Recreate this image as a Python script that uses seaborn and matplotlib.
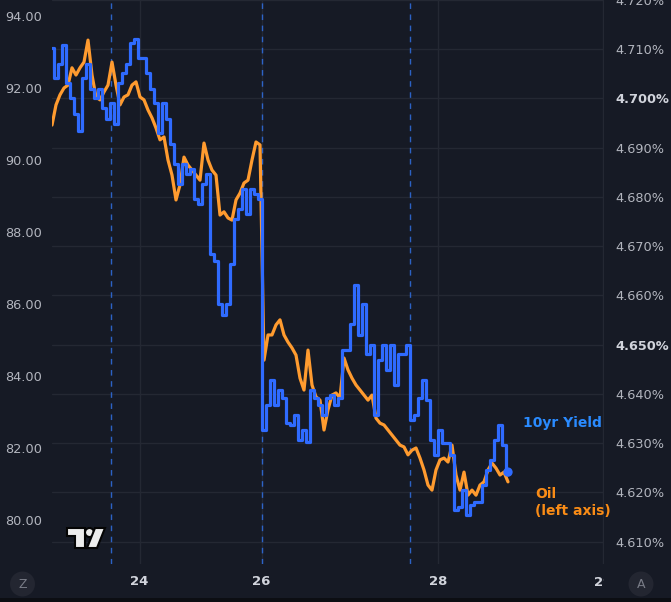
import matplotlib
matplotlib.use("Agg")
import matplotlib.pyplot as plt
import seaborn as sns
import pandas as pd
from matplotlib.patches import Rectangle, Polygon, Ellipse
from matplotlib.transforms import Bbox, TransformedBbox

# ---------------- data ----------------
oil = [90.97, 91.53, 91.81, 92.00, 92.08, 92.56, 92.36, 92.56, 92.72, 93.33,
       92.36, 91.75, 91.67, 91.89, 92.08, 92.72, 92.08, 91.53, 91.75, 91.81,
       92.08, 92.17, 91.75, 91.67, 91.39, 91.17, 90.89, 90.56, 90.64, 90.00,
       89.58, 88.89, 89.31, 90.08, 89.86, 89.72, 89.58, 89.44, 90.47, 90.00,
       89.72, 89.58, 88.47, 88.56, 88.39, 88.33, 88.89, 89.08, 89.36, 89.44,
       90.00, 90.50, 90.42, 84.44, 85.14, 85.14, 85.42, 85.56, 85.14, 84.94,
       84.78, 84.58, 83.94, 83.61, 84.72, 83.75, 83.42, 83.33, 82.50, 83.06,
       83.47, 83.53, 83.39, 84.50, 84.17, 83.94, 83.75, 83.61, 83.47, 83.33,
       83.47, 82.83, 82.69, 82.64, 82.50, 82.36, 82.22, 82.08, 82.03, 81.81,
       81.94, 82.00, 81.72, 81.39, 80.97, 80.83, 81.39, 81.67, 81.72, 81.61,
       82.08, 81.25, 80.83, 81.33, 80.69, 80.83, 80.69, 80.97, 81.06, 81.39,
       81.58, 81.44, 81.25, 81.33, 81.06]

yield10 = [4.7102, 4.7041, 4.7071, 4.7108, 4.7031, 4.7000, 4.6969, 4.6933, 4.7041, 4.7071,
           4.7020, 4.7000, 4.7020, 4.6980, 4.6959, 4.6990, 4.6949, 4.7031, 4.7051, 4.7071,
           4.7112, 4.7120, 4.7082, 4.7082, 4.7051, 4.7020, 4.6990, 4.6929, 4.6990, 4.6959,
           4.6908, 4.6867, 4.6827, 4.6867, 4.6847, 4.6857, 4.6796, 4.6786, 4.6827, 4.6847,
           4.6684, 4.6669, 4.6582, 4.6561, 4.6582, 4.6663, 4.6755, 4.6776, 4.6816, 4.6765,
           4.6816, 4.6806, 4.6796, 4.6327, 4.6378, 4.6429, 4.6378, 4.6408, 4.6392, 4.6341,
           4.6337, 4.6357, 4.6306, 4.6327, 4.6302, 4.6408, 4.6392, 4.6378, 4.6357, 4.6392,
           4.6398, 4.6378, 4.6392, 4.6490, 4.6490, 4.6541, 4.6622, 4.6520, 4.6582, 4.6480,
           4.6500, 4.6357, 4.6469, 4.6500, 4.6449, 4.6500, 4.6418, 4.6480, 4.6480, 4.6500,
           4.6347, 4.6357, 4.6392, 4.6429, 4.6388, 4.6306, 4.6276, 4.6327, 4.6300, 4.6300,
           4.6276, 4.6163, 4.6170, 4.6204, 4.6153, 4.6174, 4.6180, 4.6180, 4.6214, 4.6245,
           4.6266, 4.6306, 4.6337, 4.6296, 4.6241]

bars = list(range(len(oil)))

oil_ticks = [80.0, 82.0, 84.0, 86.0, 88.0, 90.0, 92.0, 94.0]
yield_ticks = [4.61, 4.62, 4.63, 4.64, 4.65, 4.66, 4.67, 4.68, 4.69, 4.70, 4.71, 4.72]
date_labels = ["24", "26", "28", "29"]
date_pos = [21.875, 52.375, 96.5, 137.75]
session_breaks = [14.75, 52.375, 89.375]

# ---------------- style ----------------
BG = "#161A25"
GRID = "#242833"
TXT = "#B2B5BE"
BLUE = "#2F6BFF"
ORANGE = "#FF9B2F"
BLUE_TXT = "#2A8BFF"
ORANGE_TXT = "#FA8C16"

sns.set_theme(style="dark")
plt.rcParams['font.family'] = ['DejaVu Sans']

df = pd.DataFrame({"bar": bars, "oil": oil, "yield": yield10})

W, H = 671, 602
fig = plt.figure(figsize=(W / 100, H / 100), dpi=100, facecolor=BG)
rect = [52 / W, 38 / H, 552 / W, 564 / H]

def px(x, y):
    return (x / W, 1 - y / H)

XLIM = (0, 138)
OIL_LIM = (78.778, 94.444)
YLD_LIM = (4.60543, 4.71939)

# grid layer
axg = fig.add_axes(rect)
axg.set_facecolor(BG)
axg.set_xlim(*XLIM)
axg.set_ylim(*YLD_LIM)
axg.set_yticks(yield_ticks)
axg.set_xticks(date_pos, labels=date_labels[:3] + [""])
axg.grid(True, color=GRID, lw=1)
axg.tick_params(axis="y", left=False, labelleft=False)
axg.tick_params(axis="x", bottom=False, length=0, pad=8, labelsize=9.5, labelcolor="#D1D4DC")
for lbl in axg.get_xticklabels():
    lbl.set_fontweight("bold")
for s in axg.spines.values():
    s.set_visible(False)
for xb in session_breaks:
    axg.axvline(xb, color="#2F6BD8", lw=1, ls=(0, (4, 4)), alpha=0.9)

# oil axis (left)
ax = fig.add_axes(rect)
ax.set_facecolor("none")
sns.lineplot(data=df, x="bar", y="oil", ax=ax, color=ORANGE, lw=2.3)
ax.set_xlim(*XLIM)
ax.set_ylim(*OIL_LIM)
ax.set_yticks(oil_ticks, labels=[f"{v:.2f}" for v in oil_ticks])
ax.set_xticks([])
ax.set_xlabel("")
ax.set_ylabel("")
ax.grid(False)
ax.tick_params(axis="y", left=False, length=0, pad=7, labelsize=9.3, labelcolor=TXT)
for s in ax.spines.values():
    s.set_visible(False)

# yield axis (right)
ax2 = fig.add_axes(rect)
ax2.set_facecolor("none")
sns.lineplot(data=df, x="bar", y="yield", ax=ax2, color=BLUE, lw=2.3,
             drawstyle="steps-mid")
sns.scatterplot(data=df.tail(1), x="bar", y="yield", ax=ax2, color=BLUE, s=45,
                edgecolor="none", zorder=5)
ax2.set_xlim(*XLIM)
ax2.set_ylim(*YLD_LIM)
ax2.yaxis.tick_right()
ax2.set_yticks(yield_ticks, labels=[f"{v:.3f}%" for v in yield_ticks])
ax2.set_xticks([])
ax2.set_xlabel("")
ax2.set_ylabel("")
ax2.grid(False)
ax2.tick_params(axis="y", right=False, left=False, length=0, pad=8, labelsize=9.3,
                labelcolor=TXT, labelright=True, labelleft=False)
for lbl in ax2.get_yticklabels():
    if lbl.get_text() in ("4.700%", "4.650%"):
        lbl.set_fontweight("bold")
        lbl.set_color("#D1D4DC")
for s in ax2.spines.values():
    s.set_visible(False)

# clipped "29" label under the price scale
t29 = fig.text(603 / W, 1 - 583 / H, date_labels[3], ha="center", va="center",
               fontsize=9.5, fontweight="bold", color="#D1D4DC")
t29.set_clip_on(True)
t29.set_clip_box(TransformedBbox(Bbox([[0, 0], [604 / W, 1]]), fig.transFigure))

# legend-like labels
fig.text(*px(523, 423), "10yr Yield", color=BLUE_TXT, fontsize=10, fontweight="bold",
         ha="left", va="center")
fig.text(*px(535, 487), "Oil\n(left axis)", color=ORANGE_TXT, fontsize=10,
         fontweight="bold", ha="left", va="top", linespacing=1.25)

# Z / A buttons
for cx, letter in [(22.5, "Z"), (641, "A")]:
    fig.add_artist(Ellipse(px(cx, 584), 25 / W, 25 / H, transform=fig.transFigure,
                           facecolor="#232631", edgecolor="none"))
    fig.text(*px(cx, 584), letter, color="#787B86", fontsize=9, ha="center", va="center")

# bottom dark strip
fig.add_artist(Rectangle((0, 0), 1, 4 / H, transform=fig.transFigure,
                         facecolor="#0C0E13", edgecolor="none"))

# TradingView-like logo
logo_kw = dict(transform=fig.transFigure, facecolor="#EDEDED", edgecolor="#050505", lw=1.5)
fig.add_artist(Polygon([px(67, 528), px(85, 528), px(85, 548), px(75, 548), px(75, 536),
                        px(67, 536)], closed=True, **logo_kw))
fig.add_artist(Ellipse(px(89.5, 532.5), 9 / W, 9 / H, **logo_kw))
fig.add_artist(Polygon([px(95, 528), px(105, 528), px(97, 548), px(87, 548)],
                       closed=True, **logo_kw))

fig.savefig("out.png", dpi=100, facecolor=BG)
